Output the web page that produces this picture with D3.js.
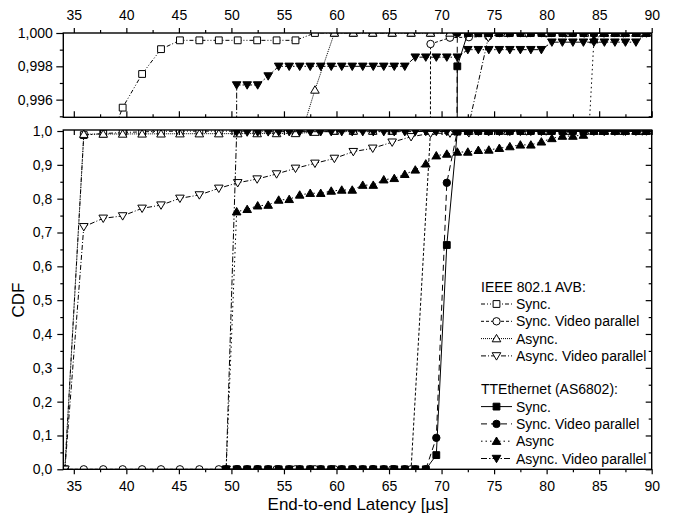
<!DOCTYPE html>
<html><head><meta charset="utf-8">
<script src="https://cdn.jsdelivr.net/npm/d3@7"></script>
<style>
body{margin:0;background:#fff;}
text{font-family:"Liberation Sans",Arial,sans-serif;fill:#000;}
</style></head><body>
<svg id="c" width="681" height="514"></svg>
<script>
// ---------------- data ----------------
const xTicks = [35, 40, 45, 50, 55, 60, 65, 70, 75, 80, 85, 90];
const xMinorTicks = [37.5, 42.5, 47.5, 52.5, 57.5, 62.5, 67.5, 72.5, 77.5, 82.5, 87.5];
const topYTicks = [0.996, 0.998, 1.000];
const topYMinor = [0.995, 0.997, 0.999];
const botYTicks = [0, 0.1, 0.2, 0.3, 0.4, 0.5, 0.6, 0.7, 0.8, 0.9, 1.0];
const botYMinor = [0.05, 0.15, 0.25, 0.35, 0.45, 0.55, 0.65, 0.75, 0.85, 0.95];

const avbX = [34.15, 35.95, 37.8, 39.65, 41.5, 43.3, 45.1, 46.95, 48.8, 50.6, 52.45, 54.3, 56.1, 57.95, 59.8, 61.6,
  63.45, 65.3, 67.1, 68.95, 70.8, 72.6, 74.45, 76.3, 78.1, 79.95, 81.8, 83.6, 85.45, 87.3, 89.1];
const avbSync = [0, 0.988, 0.9925, 0.99552, 0.99754, 0.99903, 0.99956, 0.99956, 0.99956, 0.99956, 0.99956, 0.99956, 0.99956,
  1, 1, 1, 1, 1, 1, 1, 1, 1, 1, 1, 1, 1, 1, 1, 1, 1, 1];
const avbSyncVideo = [0, 0, 0, 0, 0, 0, 0, 0, 0, 0, 0, 0, 0, 0, 0, 0, 0, 0, 0,
  0.99934, 0.99972, 0.99975, 0.9998, 1, 1, 1, 1, 1, 1, 1, 1];
const avbAsync = [0, 0.9905, 0.991, 0.9912, 0.9915, 0.9917, 0.992, 0.9921, 0.9922, 0.9923, 0.9925, 0.9926, 0.9928, 0.99658,
  1, 1, 1, 1, 1, 1, 1, 1, 1, 1, 1, 1, 1, 1, 1, 1, 1];
const avbAsyncVideo = [0, 0.717, 0.742, 0.749, 0.7715, 0.781, 0.801, 0.811, 0.8306, 0.847, 0.858, 0.873, 0.8897, 0.9045,
  0.919, 0.939, 0.949, 0.967, 0.983, 0.993, 0.9937, 0.9945, 0.99973, 1, 1, 1, 1, 1, 1, 1, 1];

const tteX = [49.5, 50.5, 51.5, 52.5, 53.5, 54.5, 55.5, 56.5, 57.5, 58.5, 59.5, 60.5, 61.5, 62.5, 63.5, 64.5, 65.5, 66.5,
  67.5, 68.5, 69.5, 70.5, 71.5, 72.5, 73.5, 74.5, 75.5, 76.5, 77.5, 78.5, 79.5, 80.5, 81.5, 82.5, 83.5, 84.5, 85.5, 86.5,
  87.5, 88.5, 89.5];
const tteSync = [0, 0, 0, 0, 0, 0, 0, 0, 0, 0, 0, 0, 0, 0, 0, 0, 0, 0, 0, 0, 0.042, 0.663, 0.998,
  1, 1, 1, 1, 1, 1, 1, 1, 1, 1, 1, 1, 1, 1, 1, 1, 1, 1];
const tteSyncVideo = [0, 0, 0, 0, 0, 0, 0, 0, 0, 0, 0, 0, 0, 0, 0, 0, 0, 0, 0, 0, 0.093, 0.847, 1,
  1, 1, 1, 1, 1, 1, 1, 1, 1, 1, 1, 1, 1, 1, 1, 1, 1, 1];
const tteAsync = [0, 0.7615, 0.7685, 0.779, 0.781, 0.796, 0.798, 0.811, 0.816, 0.816, 0.8226, 0.8256, 0.8256, 0.840,
  0.840, 0.856, 0.860, 0.872, 0.885, 0.903, 0.927, 0.932, 0.938, 0.938, 0.943, 0.944, 0.949, 0.954, 0.959, 0.959, 0.968,
  0.978, 0.985, 0.985, 0.988, 0.9996, 1, 1, 1, 1, 1];
const tteAsyncVideo = [0, 0.99688, 0.99688, 0.99688, 0.99742, 0.998, 0.998, 0.998, 0.998, 0.998, 0.998, 0.998, 0.998,
  0.998, 0.998, 0.998, 0.998, 0.998, 0.99855, 0.99855, 0.99855, 0.99855, 0.99855, 0.999, 0.999, 0.999, 0.999, 0.999,
  0.999, 0.999, 0.999, 0.99945, 0.99945, 0.99945, 0.99945, 0.99945, 0.99945, 0.99945, 0.99945, 0.99945, 1];

const seriesNames = ["Sync.", "Sync. Video parallel", "Async.", "Async. Video parallel",
                     "Sync.", "Sync. Video parallel", "Async", "Async. Video parallel"];

// ---------------- styles ----------------
const series = [
  {name: seriesNames[0], xs: avbX, ys: avbSync, sym: "square", fill: false, dash: "4,2,1,2,1,2"},
  {name: seriesNames[1], xs: avbX, ys: avbSyncVideo, sym: "circle", fill: false, dash: "3,2"},
  {name: seriesNames[2], xs: avbX, ys: avbAsync, sym: "up", fill: false, dash: "1,1"},
  {name: seriesNames[3], xs: avbX, ys: avbAsyncVideo, sym: "down", fill: false, dash: "5,2,1,2"},
  {name: seriesNames[4], xs: tteX, ys: tteSync, sym: "square", fill: true, dash: null},
  {name: seriesNames[5], xs: tteX, ys: tteSyncVideo, sym: "circle", fill: true, dash: "6,4"},
  {name: seriesNames[6], xs: tteX, ys: tteAsync, sym: "up", fill: true, dash: "1.5,3"},
  {name: seriesNames[7], xs: tteX, ys: tteAsyncVideo, sym: "down", fill: true, dash: "6,2,1.5,2"}
];

function symPath(t) {
  if (t === "square") return "M-3.4,-3.4H3.4V3.4H-3.4Z";
  if (t === "circle") return "M3.7,0A3.7,3.7 0 1,1 -3.7,0A3.7,3.7 0 1,1 3.7,0Z";
  if (t === "up") return "M0,-4.2L4.3,3.2L-4.3,3.2Z";
  return "M0,4.2L4.3,-3.2L-4.3,-3.2Z";
}

const svg = d3.select("#c");
const L = 63.3, R = 651.7;
const x = d3.scaleLinear().domain([34, 90]).range([L, R]);
const topPanel = {y0: 33, y1: 117.3, y: d3.scaleLinear().domain([0.99494, 1.0]).range([117.3, 33]), fmt: d3.format(".3f")};
const botPanel = {y0: 130, y1: 469.3, y: d3.scaleLinear().domain([0, 1.003]).range([469.3, 130]), fmt: d3.format(".1f")};

const comma = f => (v => f(v).replace(".", ","));

function drawPanel(p, id) {
  const clipId = "clip" + id;
  svg.append("clipPath").attr("id", clipId).append("rect")
    .attr("x", L).attr("y", p.y0).attr("width", R - L).attr("height", p.y1 - p.y0);
  const g = svg.append("g").attr("clip-path", `url(#${clipId})`);
  const line = d3.line().x(d => x(d[0])).y(d => p.y(d[1]));
  series.forEach(s => {
    const pts = s.xs.map((v, i) => [v, s.ys[i]]);
    g.append("path").attr("d", line(pts)).attr("fill", "none").attr("stroke", "#000")
      .attr("stroke-width", 1).attr("stroke-dasharray", s.dash);
    g.selectAll(null).data(pts).enter().append("path")
      .attr("transform", d => `translate(${x(d[0])},${p.y(d[1])})`)
      .attr("d", symPath(s.sym))
      .attr("fill", s.fill ? "#000" : "#fff").attr("stroke", "#000").attr("stroke-width", 1);
  });
}

drawPanel(topPanel, "T");
drawPanel(botPanel, "B");

function styleAxis(g) {
  g.select(".domain").remove();
  g.selectAll("line").attr("stroke", "#000").attr("stroke-width", 1.2);
  g.selectAll("text").style("font-size", "14px").style("font-family", '"Liberation Sans",Arial,sans-serif');
}

// --- top panel axes ---
svg.append("g").attr("transform", `translate(0,${topPanel.y0})`)
  .call(d3.axisTop(x).tickValues(xTicks).tickSize(5).tickPadding(8.5).tickFormat(d3.format("d"))).call(styleAxis);
svg.append("g").attr("transform", `translate(0,${topPanel.y0})`)
  .call(d3.axisTop(x).tickValues(xMinorTicks).tickSize(3).tickFormat("")).call(styleAxis);
svg.append("g").attr("transform", `translate(0,${topPanel.y1})`)
  .call(d3.axisTop(x).tickValues(xTicks).tickSize(6).tickFormat("")).call(styleAxis);
svg.append("g").attr("transform", `translate(0,${topPanel.y1})`)
  .call(d3.axisTop(x).tickValues(xMinorTicks).tickSize(3).tickFormat("")).call(styleAxis);
svg.append("g").attr("transform", `translate(${L},0)`)
  .call(d3.axisLeft(topPanel.y).tickValues(topYTicks).tickSize(7).tickPadding(3.5).tickFormat(comma(topPanel.fmt))).call(styleAxis);
svg.append("g").attr("transform", `translate(${L},0)`)
  .call(d3.axisLeft(topPanel.y).tickValues(topYMinor).tickSize(3.5).tickFormat("")).call(styleAxis);
svg.append("g").attr("transform", `translate(${R},0)`)
  .call(d3.axisLeft(topPanel.y).tickValues(topYTicks).tickSize(5).tickFormat("")).call(styleAxis);
svg.append("g").attr("transform", `translate(${R},0)`)
  .call(d3.axisLeft(topPanel.y).tickValues(topYMinor).tickSize(3).tickFormat("")).call(styleAxis);

// --- bottom panel axes ---
svg.append("g").attr("transform", `translate(0,${botPanel.y1})`)
  .call(d3.axisBottom(x).tickValues(xTicks).tickSize(5).tickPadding(7.2).tickFormat(d3.format("d"))).call(styleAxis);
svg.append("g").attr("transform", `translate(0,${botPanel.y1})`)
  .call(d3.axisBottom(x).tickValues(xMinorTicks).tickSize(3).tickFormat("")).call(styleAxis);
svg.append("g").attr("transform", `translate(0,${botPanel.y0})`)
  .call(d3.axisBottom(x).tickValues(xTicks).tickSize(5).tickFormat("")).call(styleAxis);
svg.append("g").attr("transform", `translate(0,${botPanel.y0})`)
  .call(d3.axisBottom(x).tickValues(xMinorTicks).tickSize(3).tickFormat("")).call(styleAxis);
svg.append("g").attr("transform", `translate(${L},0)`)
  .call(d3.axisLeft(botPanel.y).tickValues(botYTicks).tickSize(6).tickPadding(5).tickFormat(comma(botPanel.fmt))).call(styleAxis);
svg.append("g").attr("transform", `translate(${L},0)`)
  .call(d3.axisLeft(botPanel.y).tickValues(botYMinor).tickSize(3).tickFormat("")).call(styleAxis);
svg.append("g").attr("transform", `translate(${R},0)`)
  .call(d3.axisLeft(botPanel.y).tickValues(botYTicks).tickSize(6).tickFormat("")).call(styleAxis);
svg.append("g").attr("transform", `translate(${R},0)`)
  .call(d3.axisLeft(botPanel.y).tickValues(botYMinor).tickSize(3).tickFormat("")).call(styleAxis);

// frames
[topPanel, botPanel].forEach(p => {
  svg.append("rect").attr("x", L).attr("y", p.y0).attr("width", R - L).attr("height", p.y1 - p.y0)
    .attr("fill", "none").attr("stroke", "#000").attr("stroke-width", 1.4);
});

// titles
svg.append("text").attr("x", 358).attr("y", 510).attr("text-anchor", "middle")
  .style("font-size", "17px").text("End-to-end Latency [µs]");
svg.append("text").attr("transform", "translate(24,300) rotate(-90)").attr("text-anchor", "middle")
  .style("font-size", "17px").text("CDF");

// legend
const legendTitles = ["IEEE 802.1 AVB:", "TTEthernet (AS6802):"];
const lg = svg.append("g").style("font-size", "14px");
const lx = 481, rowH = 17.3;
const groupTop = [286.7, 389.3];
[0, 1].forEach(gi => {
  lg.append("text").attr("x", lx).attr("y", groupTop[gi] + 5).text(legendTitles[gi]);
  for (let k = 0; k < 4; k++) {
    const s = series[gi * 4 + k];
    const cy = groupTop[gi] + rowH * (k + 1);
    lg.append("line").attr("x1", lx).attr("x2", lx + 31).attr("y1", cy).attr("y2", cy)
      .attr("stroke", "#000").attr("stroke-width", 1).attr("stroke-dasharray", s.dash);
    lg.append("path").attr("transform", `translate(${lx + 15.5},${cy})`).attr("d", symPath(s.sym))
      .attr("fill", s.fill ? "#000" : "#fff").attr("stroke", "#000").attr("stroke-width", 1);
    lg.append("text").attr("x", lx + 35).attr("y", cy + 5).text(s.name);
  }
});
</script>
</body></html>
